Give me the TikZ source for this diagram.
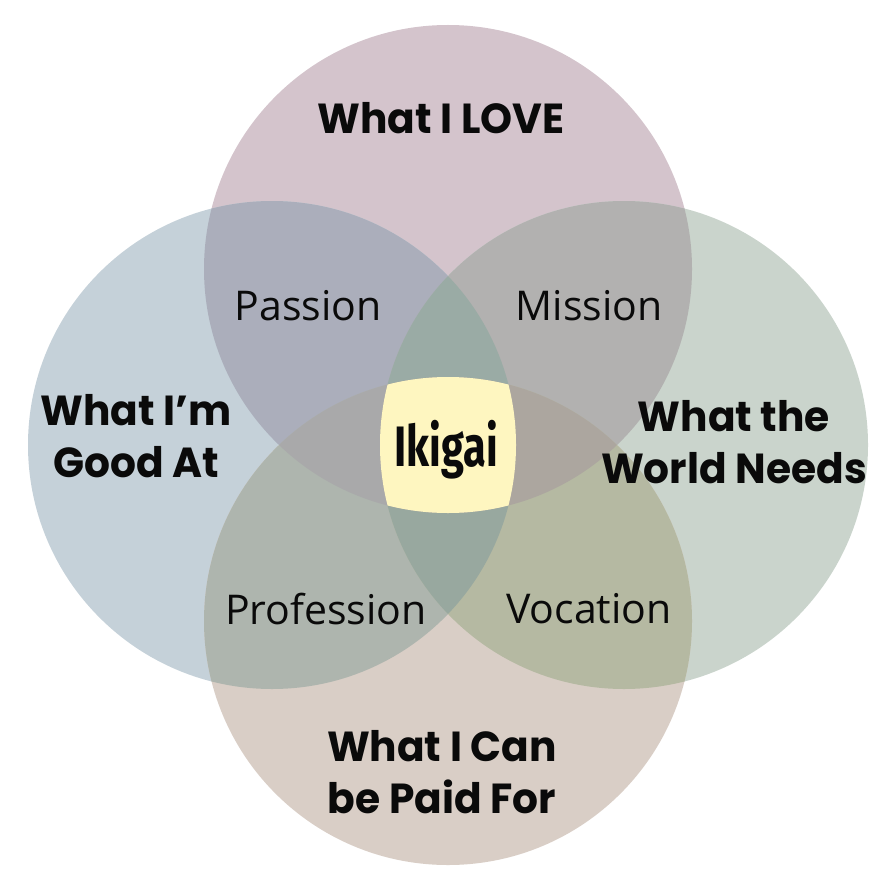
\documentclass[tikz,border=0pt]{standalone}
\usepackage{fontspec}
\newfontfamily\lblfont{Poppins}[FakeStretch=0.97]
\newfontfamily\ikifont{Fira Sans}[FakeStretch=0.73]
\newfontfamily\subfont{Open Sans}
\definecolor{cT}{HTML}{D4C4CC}
\definecolor{cL}{HTML}{C5D1D9}
\definecolor{cR}{HTML}{CAD4CC}
\definecolor{cB}{HTML}{D9CEC6}
\definecolor{cTL}{HTML}{ABAEBB}
\definecolor{cTR}{HTML}{B2B1B0}
\definecolor{cLB}{HTML}{AEB5AE}
\definecolor{cRB}{HTML}{B5B9A2}
\definecolor{cTLR}{HTML}{9AABA5}
\definecolor{cLRB}{HTML}{98A89F}
\definecolor{cTLB}{HTML}{A9A9AA}
\definecolor{cTRB}{HTML}{ACA69F}
\definecolor{cIki}{HTML}{FEF6C0}
\definecolor{ink}{HTML}{0A0A0A}
\tikzset{
  bigl/.style={font=\lblfont\bfseries\fontsize{42}{52}\selectfont, text=ink, align=center, inner sep=0pt},
  subl/.style={font=\subfont\fontsize{41}{48}\selectfont, text=ink, inner sep=0pt},
  ikil/.style={font=\ikifont\bfseries\fontsize{57}{60}\selectfont, text=ink, inner sep=0pt},
}
\begin{document}
\begin{tikzpicture}[x=1pt,y=-1pt]
\useasboundingbox (0,0) rectangle (892,896);
\fill[white] (0,0) rectangle (892,896);
\def\rr{244pt}
\coordinate (T) at (448,269);
\coordinate (B) at (448,621);
\coordinate (L) at (272,445);
\coordinate (R) at (624,445);
% single circles
\fill[cT] (T) circle[radius=\rr];
\fill[cL] (L) circle[radius=\rr];
\fill[cR] (R) circle[radius=\rr];
\fill[cB] (B) circle[radius=\rr];
% pairs
\begin{scope}\clip (T) circle[radius=\rr]; \fill[cTL] (L) circle[radius=\rr];\end{scope}
\begin{scope}\clip (T) circle[radius=\rr]; \fill[cTR] (R) circle[radius=\rr];\end{scope}
\begin{scope}\clip (B) circle[radius=\rr]; \fill[cLB] (L) circle[radius=\rr];\end{scope}
\begin{scope}\clip (B) circle[radius=\rr]; \fill[cRB] (R) circle[radius=\rr];\end{scope}
% triples
\begin{scope}\clip (T) circle[radius=\rr]; \clip (L) circle[radius=\rr]; \fill[cTLR] (R) circle[radius=\rr];\end{scope}
\begin{scope}\clip (B) circle[radius=\rr]; \clip (L) circle[radius=\rr]; \fill[cLRB] (R) circle[radius=\rr];\end{scope}
\begin{scope}\clip (T) circle[radius=\rr]; \clip (B) circle[radius=\rr]; \fill[cTLB] (L) circle[radius=\rr];\end{scope}
\begin{scope}\clip (T) circle[radius=\rr]; \clip (B) circle[radius=\rr]; \fill[cTRB] (R) circle[radius=\rr];\end{scope}
% all four
\begin{scope}\clip (T) circle[radius=\rr]; \clip (B) circle[radius=\rr]; \clip (L) circle[radius=\rr]; \fill[cIki] (R) circle[radius=\rr];\end{scope}
% labels
\node[bigl] (love) at (441,118) {What I LOVE};
\node[bigl] (good) at (136,436) {What I’m\\Good At};
\node[bigl] (world) at (734,442) {What the\\World Needs};
\node[bigl] (paid) at (442,772) {What I Can\\be Paid For};
\node[subl] (passion) at (308,306) {Passion};
\node[subl] (mission) at (589,306) {Mission};
\node[subl] (prof) at (326,609) {Profession};
\node[subl] (voc) at (589,609) {Vocation};
\node[ikil] (iki) at (446,450) {Ikigai};
\end{tikzpicture}
\end{document}
